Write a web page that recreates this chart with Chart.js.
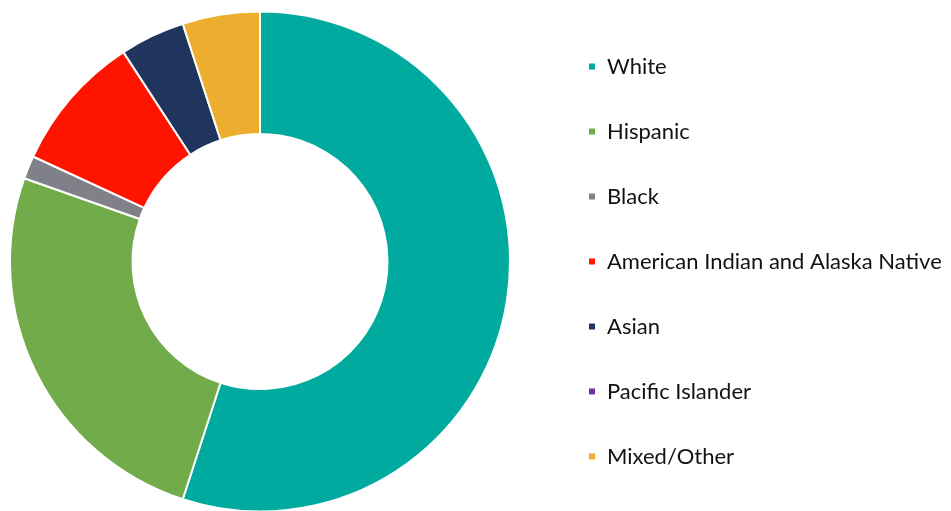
<!DOCTYPE html>
<html>
<head>
<meta charset="utf-8">
<script src="https://cdn.jsdelivr.net/npm/chart.js@4/dist/chart.umd.min.js"></script>
<style>
  html, body { margin: 0; padding: 0; background: #fff; }
  #wrap { width: 951px; height: 511px; position: relative; overflow: hidden; }
  #inner { width: 976px; height: 511px; margin-left: -25px; position: relative; }
</style>
</head>
<body>
<div id="wrap"><div id="inner"><canvas id="myChart"></canvas></div></div>
<script>
// datos (porcentajes aprox.)
const groups = ["White", "Hispanic", "Black", "American Indian and Alaska Native", "Asian", "Pacific Islander", "Mixed/Other"];
const shares = [55.0, 25.4, 1.5, 8.9, 4.2, 0, 5.0];
const colors = ["#00aa9f", "#72ac4a", "#808088", "#ff1400", "#1f355e", "#7030a0", "#edae2f"];

const fontSize = 22;
const labelPadding = 65 - fontSize;
const shift = 25; // el canvas empieza 25px a la izquierda

// medir la etiqueta mas larga para ubicar la leyenda
const measureCtx = document.createElement("canvas").getContext("2d");
measureCtx.font = `${fontSize}px Lato`;
const longest = Math.max(...groups.map((g) => measureCtx.measureText(g).width));
const legendWidth = labelPadding + 8 + fontSize / 2 + longest + 10;
const legendLeft = 2 * (260 + shift);
const padRight = 976 - legendLeft - legendWidth;

const ctx = document.getElementById("myChart").getContext("2d");

const chart = new Chart(ctx, {
  type: "doughnut",
  data: {
    labels: groups,
    datasets: [
      {
        data: shares,
        backgroundColor: colors,
        borderColor: "#ffffff",
        borderWidth: 2,
      },
    ],
  },
  options: {
    responsive: true,
    maintainAspectRatio: false,
    animation: false,
    cutout: "51%",
    radius: 250,
    layout: {
      padding: { top: 12, bottom: 0, left: 0, right: padRight },
    },
    plugins: {
      tooltip: { enabled: false },
      legend: {
        position: "right",
        labels: {
          boxWidth: 8,
          boxHeight: 8,
          padding: labelPadding,
          color: "#111118",
          font: { family: "Lato", size: fontSize },
        },
      },
    },
  },
});
</script>
</body>
</html>
